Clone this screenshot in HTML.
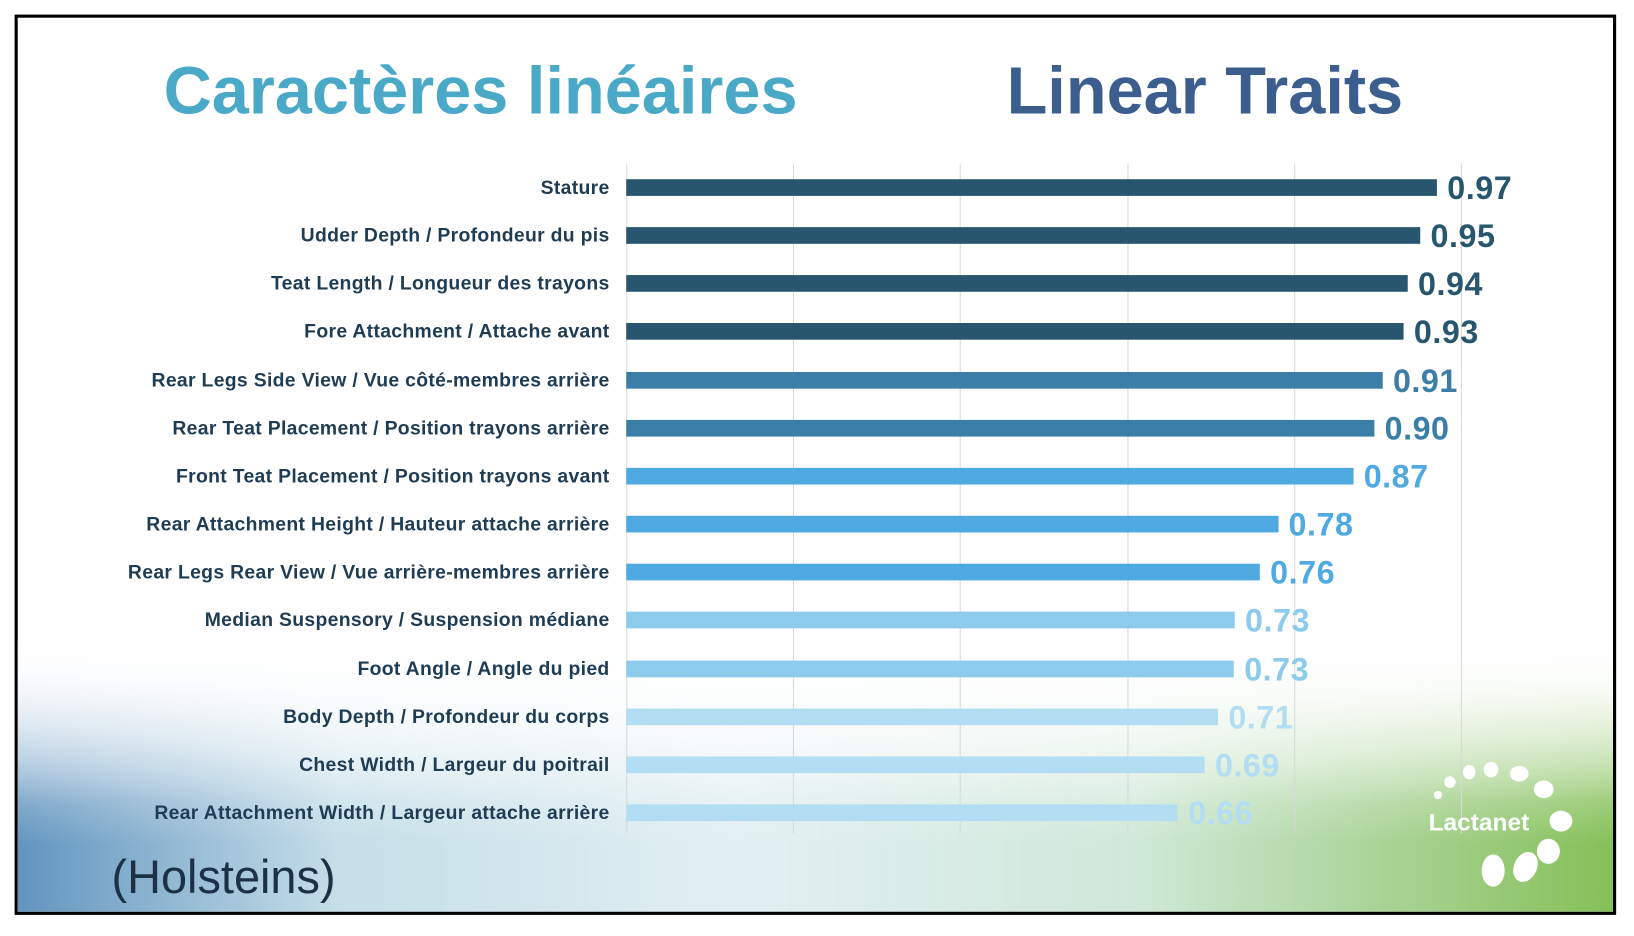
<!DOCTYPE html>
<html><head><meta charset="utf-8"><style>
html,body{margin:0;padding:0;background:#fff;width:1634px;height:936px;overflow:hidden}
#s{position:absolute;left:0;top:0;width:1560px;height:894px;transform:scale(1.042);transform-origin:0 0;font-family:"Liberation Sans",sans-serif}
.frame{position:absolute;left:14px;top:14px;width:1531px;height:858px;border:3px solid #000;overflow:hidden;background:#fff}
.t{position:absolute;font-weight:bold;font-size:64px;top:50px;white-space:nowrap}
.lab{position:absolute;right:975px;font-weight:bold;font-size:18.6px;letter-spacing:0.3px;color:#1f3c55;white-space:nowrap;transform:translateY(-50%)}
.bar{position:absolute;left:601px;height:16px;transform:translateY(-50%)}
.val{position:absolute;font-weight:bold;font-size:31px;letter-spacing:0.5px;transform:translateY(-50%);white-space:nowrap}
.g{position:absolute;top:157px;height:643px;width:1px;background:#d9d9d9}
.dot{position:absolute;background:#fff;border-radius:50%}
</style></head><body><div id="s">
<div class="frame">
<div style="position:absolute;left:0;right:0;bottom:0;height:260px;background:linear-gradient(90deg,rgba(70,130,180,.85) 0%,rgba(140,190,210,.5) 20%,rgba(170,210,220,.35) 45%,rgba(150,205,170,.45) 70%,rgba(120,185,70,.9) 100%);-webkit-mask-image:linear-gradient(180deg,transparent 0%,#000 75%);mask-image:linear-gradient(180deg,transparent 0%,#000 75%)"></div>
<div style="position:absolute;left:0;right:0;bottom:0;height:260px;background:linear-gradient(180deg,rgba(255,255,255,1) 0%,rgba(255,255,255,0) 60%)"></div>
</div>
<div class="t" style="left:157px;color:#4aa9c6">Caractères linéaires</div>
<div class="t" style="left:966px;color:#3b5e8f">Linear Traits</div>
<div class="g" style="left:601px"></div><div class="g" style="left:761px"></div><div class="g" style="left:921px"></div><div class="g" style="left:1082px"></div><div class="g" style="left:1242px"></div><div class="g" style="left:1402px"></div>
<div id="rows"></div>
<div style="position:absolute;left:107px;top:816px;font-size:45px;color:#1d3146">(Holsteins)</div>
<div style="position:absolute;left:1371px;top:776px;font-size:23.5px;font-weight:bold;color:#fff">Lactanet</div>
<div class="dot" style="left:1376px;top:759px;width:8px;height:8px"></div>
<div class="dot" style="left:1386px;top:745px;width:11px;height:11px"></div>
<div class="dot" style="left:1404px;top:734px;width:12px;height:14px"></div>
<div class="dot" style="left:1424px;top:731px;width:14px;height:15px"></div>
<div class="dot" style="left:1449px;top:735px;width:18px;height:15px"></div>
<div class="dot" style="left:1472px;top:749px;width:19px;height:17px"></div>
<div class="dot" style="left:1487px;top:778px;width:22px;height:20px"></div>
<div class="dot" style="left:1475px;top:805px;width:22px;height:24px"></div>
<div class="dot" style="left:1453px;top:817px;width:22px;height:30px;transform:rotate(25deg)"></div>
<div class="dot" style="left:1422px;top:820px;width:22px;height:31px"></div>
</div>
<script>
var d=[["Stature",.97,"#27566e"],["Udder Depth / Profondeur du pis",.95,"#27566e"],["Teat Length / Longueur des trayons",.935,"#27566e","0.94"],["Fore Attachment / Attache avant",.93,"#27566e"],["Rear Legs Side View / Vue côté-membres arrière",.905,"#3b7ea8","0.91"],["Rear Teat Placement / Position trayons arrière",.895,"#3b7ea8","0.90"],["Front Teat Placement / Position trayons avant",.87,"#4faae2"],["Rear Attachment Height / Hauteur attache arrière",.78,"#4faae2"],["Rear Legs Rear View / Vue arrière-membres arrière",.758,"#4faae2","0.76"],["Median Suspensory / Suspension médiane",.728,"#8ccbeb","0.73"],["Foot Angle / Angle du pied",.727,"#8ccbeb","0.73"],["Body Depth / Profondeur du corps",.708,"#b2ddf2","0.71"],["Chest Width / Largeur du poitrail",.692,"#b2ddf2","0.69"],["Rear Attachment Width / Largeur attache arrière",.66,"#b2ddf2","0.66"]];
var h="";d.forEach(function(r,i){var y=180+i*46.15,w=r[1]*802;var v=r[3]||r[1].toFixed(2);
h+='<div class="lab" style="top:'+y+'px">'+r[0]+'</div><div class="bar" style="top:'+y+'px;width:'+w+'px;background:'+r[2]+'"></div><div class="val" style="top:'+(y+1)+'px;left:'+(601+w+10)+'px;color:'+r[2]+'">'+v+'</div>';});
document.getElementById("rows").innerHTML=h;
</script>
</div></body></html>
